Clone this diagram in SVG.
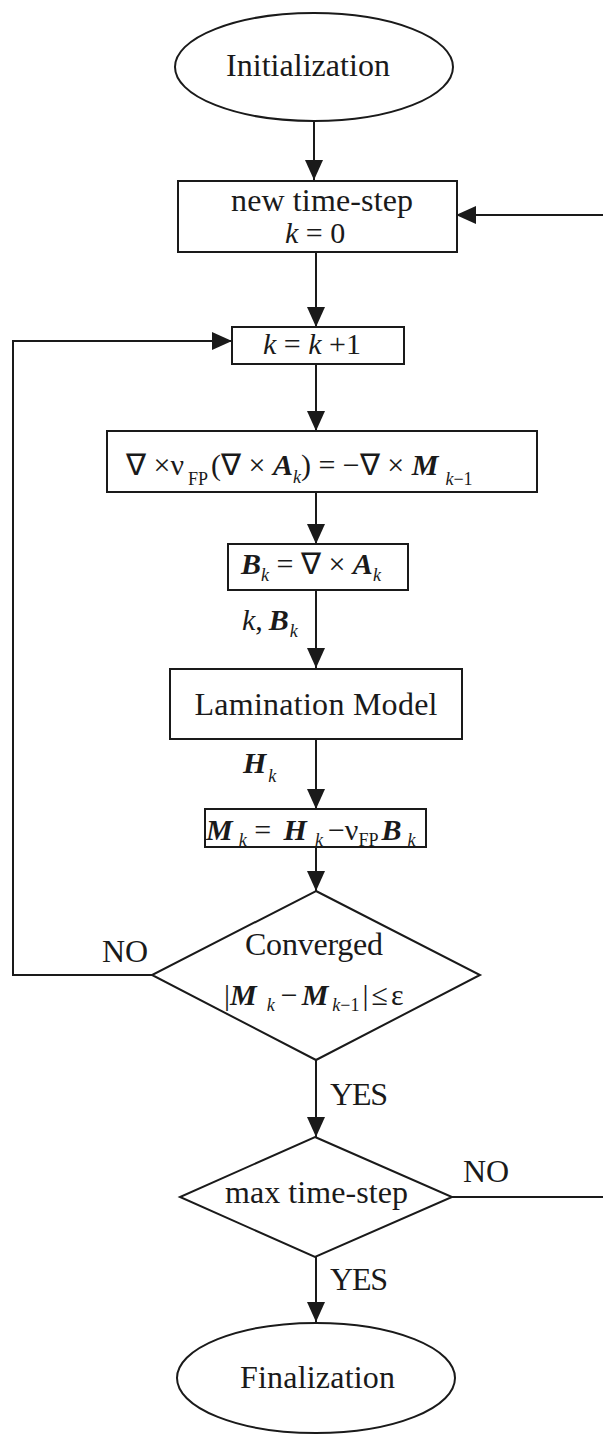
<svg xmlns="http://www.w3.org/2000/svg" width="603" height="1434" viewBox="0 0 603 1434">
<defs>
<marker id="ah" markerUnits="userSpaceOnUse" markerWidth="20" markerHeight="18" refX="20" refY="9" orient="auto">
<path d="M0,0 L20,9 L0,18 Z" fill="#1a1a1a"/>
</marker>
<style>
.sh{fill:#fff;stroke:#1a1a1a;stroke-width:2}
.ln{fill:none;stroke:#1a1a1a;stroke-width:2}
.t{font-family:"Liberation Serif",Tinos,"Times New Roman",Times,serif;font-size:32px;fill:#1a1a1a}
.m{font-family:"Liberation Serif",Tinos,"Times New Roman",Times,serif;font-size:30px;fill:#1a1a1a}
.bi{font-weight:bold;font-style:italic}
.it{font-style:italic}
.sb{font-size:18px}
</style>
</defs>
<rect width="603" height="1434" fill="#fff"/>
<g id="connectors">
<line class="ln" x1="314" y1="121" x2="314" y2="180" marker-end="url(#ah)"/>
<line class="ln" x1="316" y1="252" x2="316" y2="327" marker-end="url(#ah)"/>
<line class="ln" x1="316" y1="364" x2="316" y2="431" marker-end="url(#ah)"/>
<line class="ln" x1="316" y1="492" x2="316" y2="544" marker-end="url(#ah)"/>
<line class="ln" x1="316" y1="590" x2="316" y2="668" marker-end="url(#ah)"/>
<line class="ln" x1="316" y1="739" x2="316" y2="809" marker-end="url(#ah)"/>
<line class="ln" x1="316" y1="847" x2="316" y2="891" marker-end="url(#ah)"/>
<line class="ln" x1="316" y1="1060" x2="316" y2="1137" marker-end="url(#ah)"/>
<line class="ln" x1="316" y1="1257" x2="316" y2="1322" marker-end="url(#ah)"/>
<path class="ln" d="M152,975 H13 V341 H232" marker-end="url(#ah)"/>
<path class="ln" d="M452,1197 H606 V215 H456" marker-end="url(#ah)"/>
<text class="t" x="102" y="962" textLength="46">NO</text>
<text class="t" x="463" y="1182" textLength="46">NO</text>
<text class="t" x="330" y="1105" textLength="58">YES</text>
<text class="t" x="330" y="1290" textLength="58">YES</text>
<text class="m" x="242" y="630"><tspan class="it">k</tspan>,<tspan class="bi" dx="6">B</tspan><tspan class="it sb" dx="1" dy="7">k</tspan></text>
<text class="m" x="243" y="773"><tspan class="bi">H</tspan><tspan class="it sb" dx="2" dy="9">k</tspan></text>
</g>
<g id="init">
<ellipse class="sh" cx="314" cy="67" rx="139" ry="54"/>
<text class="t" x="226" y="76" textLength="164">Initialization</text>
</g>
<g id="newstep">
<rect class="sh" x="178" y="181" width="279" height="71"/>
<text class="t" x="231" y="211" textLength="182">new time-step</text>
<text class="m" x="285" y="243"><tspan class="it">k</tspan> = 0</text>
</g>
<g id="kinc">
<rect class="sh" x="232" y="327" width="172" height="37"/>
<text class="m" x="263" y="354"><tspan class="it">k</tspan> = <tspan class="it">k</tspan> +1</text>
</g>
<g id="solve">
<rect class="sh" x="107" y="431" width="430" height="61"/>
<text class="m" x="126" y="475">∇ ×ν<tspan class="sb" dx="4" dy="10">FP</tspan><tspan dx="3" dy="-10">(∇ × </tspan><tspan class="bi">A</tspan><tspan class="it sb" dy="8">k</tspan><tspan dy="-8">) = −∇ × </tspan><tspan class="bi">M</tspan><tspan class="sb" dx="7" dy="10"><tspan class="it">k</tspan>−1</tspan></text>
</g>
<g id="bk">
<rect class="sh" x="228" y="544" width="180" height="46"/>
<text class="m" x="241" y="574"><tspan class="bi">B</tspan><tspan class="it sb" dy="7">k</tspan><tspan dy="-7"> = ∇ × </tspan><tspan class="bi">A</tspan><tspan class="it sb" dy="7">k</tspan></text>
</g>
<g id="lamination">
<rect class="sh" x="170" y="669" width="292" height="70"/>
<text class="t" x="316" y="715" text-anchor="middle" textLength="243">Lamination Model</text>
</g>
<g id="mk">
<rect class="sh" x="205" y="809" width="221" height="38"/>
<text class="m" x="206" y="840"><tspan class="bi">M</tspan><tspan class="it sb" dx="6" dy="6">k</tspan><tspan dy="-6"> = </tspan><tspan class="bi" dx="5">H</tspan><tspan class="it sb" dx="8" dy="6">k</tspan><tspan dx="5" dy="-6">−ν</tspan><tspan class="sb" dy="6">FP</tspan><tspan class="bi" dx="3" dy="-6">B</tspan><tspan class="it sb" dx="6" dy="6">k</tspan></text>
</g>
<g id="converged">
<polygon class="sh" points="316,891 480,975 316,1060 152,975"/>
<text class="t" x="245" y="955" textLength="138">Converged</text>
<text class="m" x="224" y="1005">|<tspan class="bi">M</tspan><tspan class="it sb" dx="10" dy="6">k</tspan><tspan dx="6" dy="-6">−</tspan><tspan class="bi" dx="4">M</tspan><tspan class="sb" dx="4" dy="6"><tspan class="it">k</tspan>−1</tspan><tspan dx="3" dy="-6">|</tspan><tspan dx="3">≤</tspan><tspan dx="3">ε</tspan></text>
</g>
<g id="maxstep">
<polygon class="sh" points="315,1137 452,1197 315,1257 180,1197"/>
<text class="t" x="225" y="1203" textLength="183">max time-step</text>
</g>
<g id="final">
<ellipse class="sh" cx="316" cy="1378" rx="139" ry="55"/>
<text class="t" x="240" y="1388" textLength="155">Finalization</text>
</g>
</svg>
